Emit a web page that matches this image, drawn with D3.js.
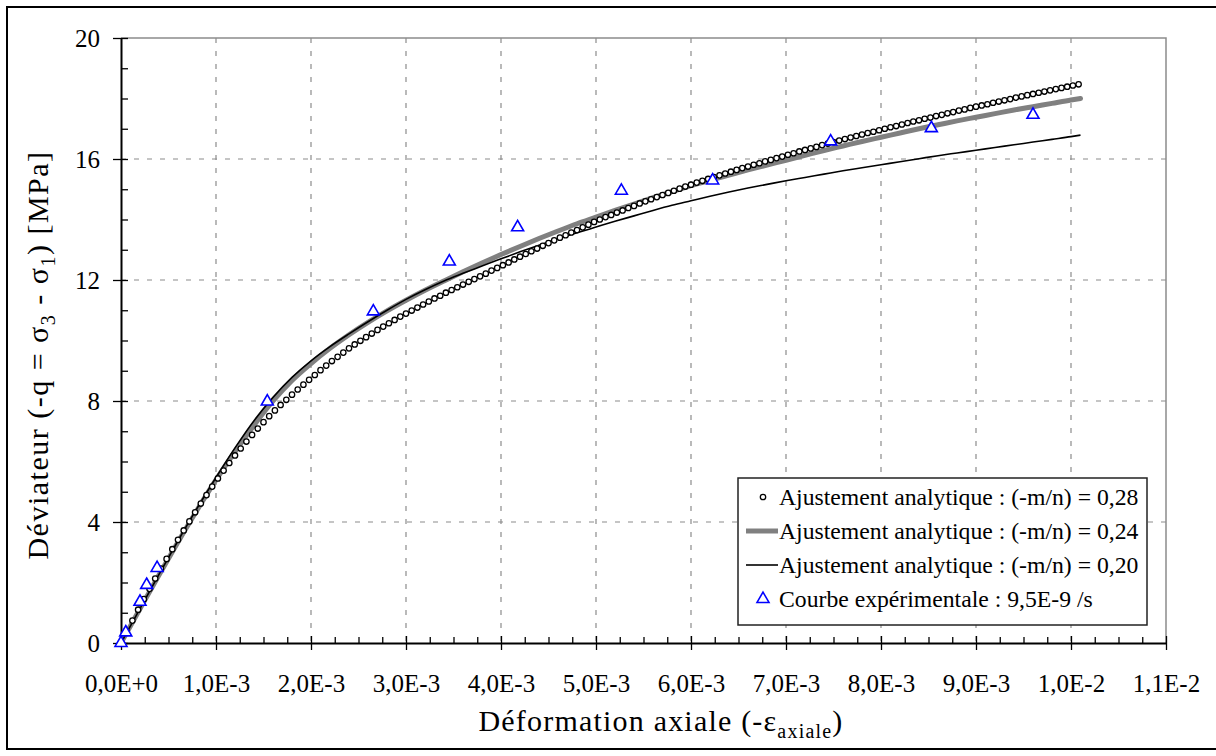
<!DOCTYPE html>
<html><head><meta charset="utf-8">
<script src="https://cdn.jsdelivr.net/npm/d3@7"></script>
<style>body{margin:0;background:#fff}svg{display:block;font-family:"Liberation Serif","Times New Roman",serif}</style>
</head><body><svg id="c" width="1216" height="756"></svg>
<script>
// ---- data (strain in units of 1E-3, deviator in MPa) ----
const xTickValues = [0,1,2,3,4,5,6,7,8,9,10,11];
const xTickLabels = ["0,0E+0","1,0E-3","2,0E-3","3,0E-3","4,0E-3","5,0E-3","6,0E-3","7,0E-3","8,0E-3","9,0E-3","1,0E-2","1,1E-2"];
const yTickValues = [0,4,8,12,16,20];
const yTickLabels = ["0","4","8","12","16","20"];

// Ajustement analytique (-m/n) = 0,28 (markers)
const fit28X = [0,0.06,0.12,0.18,0.24,0.30,0.36,0.42,0.48,0.54,
0.60,0.66,0.72,0.78,0.84,0.90,0.96,1.02,1.08,1.14,
1.20,1.26,1.32,1.38,1.44,1.50,1.56,1.62,1.68,1.74,
1.80,1.86,1.92,1.98,2.04,2.10,2.16,2.22,2.28,2.34,
2.40,2.46,2.52,2.58,2.64,2.70,2.76,2.82,2.88,2.94,
3.00,3.06,3.12,3.18,3.24,3.30,3.36,3.42,3.48,3.54,
3.60,3.66,3.72,3.78,3.84,3.90,3.96,4.02,4.08,4.14,
4.20,4.26,4.32,4.38,4.44,4.50,4.56,4.62,4.68,4.74,
4.80,4.86,4.92,4.98,5.04,5.10,5.16,5.22,5.28,5.34,
5.40,5.46,5.52,5.58,5.64,5.70,5.76,5.82,5.88,5.94,
6.00,6.06,6.12,6.18,6.24,6.30,6.36,6.42,6.48,6.54,
6.60,6.66,6.72,6.78,6.84,6.90,6.96,7.02,7.08,7.14,
7.20,7.26,7.32,7.38,7.44,7.50,7.56,7.62,7.68,7.74,
7.80,7.86,7.92,7.98,8.04,8.10,8.16,8.22,8.28,8.34,
8.40,8.46,8.52,8.58,8.64,8.70,8.76,8.82,8.88,8.94,
9.00,9.06,9.12,9.18,9.24,9.30,9.36,9.42,9.48,9.54,
9.60,9.66,9.72,9.78,9.84,9.90,9.96,10.02,10.08];
const fit28Q = [0,0.37,0.74,1.10,1.45,1.79,2.13,2.46,2.78,3.10,
3.41,3.72,4.02,4.32,4.61,4.89,5.17,5.44,5.70,5.95,
6.20,6.43,6.66,6.88,7.09,7.30,7.50,7.69,7.87,8.04,
8.21,8.38,8.54,8.70,8.86,9.02,9.17,9.32,9.46,9.60,
9.74,9.87,9.99,10.11,10.23,10.35,10.46,10.57,10.68,10.79,
10.89,10.99,11.09,11.19,11.29,11.39,11.48,11.58,11.67,11.76,
11.85,11.94,12.03,12.12,12.21,12.31,12.40,12.49,12.58,12.68,
12.77,12.86,12.95,13.04,13.13,13.22,13.31,13.40,13.48,13.57,
13.65,13.74,13.83,13.92,14.00,14.08,14.15,14.23,14.30,14.38,
14.45,14.53,14.60,14.67,14.74,14.81,14.88,14.95,15.02,15.09,
15.15,15.22,15.28,15.34,15.40,15.46,15.52,15.58,15.64,15.70,
15.75,15.81,15.86,15.92,15.97,16.03,16.08,16.14,16.19,16.25,
16.30,16.35,16.40,16.46,16.51,16.56,16.61,16.66,16.71,16.76,
16.81,16.86,16.90,16.95,17.00,17.05,17.09,17.14,17.19,17.24,
17.28,17.33,17.37,17.42,17.46,17.51,17.55,17.60,17.64,17.69,
17.73,17.77,17.81,17.86,17.90,17.94,17.98,18.03,18.07,18.11,
18.15,18.19,18.23,18.27,18.31,18.35,18.39,18.43,18.47];

// Ajustement analytique (-m/n) = 0,24 (thick grey line) and 0,20 (thin black line)
const fitLineX = [0,0.2,0.4,0.6,0.8,1.0,1.2,1.4,1.6,1.8,
2.0,2.2,2.4,2.6,2.8,3.0,3.2,3.4,3.6,3.8,
4.0,4.2,4.4,4.6,4.8,5.0,5.2,5.4,5.6,5.8,
6.0,6.2,6.4,6.6,6.8,7.0,7.2,7.4,7.6,7.8,
8.0,8.2,8.4,8.6,8.8,9.0,9.2,9.4,9.6,9.8,10.0,10.1];
const fit24Q = [0,1.13,2.25,3.34,4.39,5.39,6.33,7.20,8.00,8.68,
9.24,9.74,10.19,10.60,10.98,11.33,11.66,11.97,12.27,12.56,
12.84,13.11,13.37,13.62,13.86,14.08,14.30,14.51,14.72,14.92,
15.12,15.30,15.47,15.64,15.80,15.96,16.12,16.28,16.43,16.58,
16.72,16.86,17.00,17.13,17.26,17.38,17.50,17.62,17.73,17.84,17.95,18.00];
const fit20Q = [0,1.14,2.27,3.38,4.45,5.47,6.45,7.35,8.12,8.78,
9.33,9.80,10.22,10.62,11.00,11.36,11.68,11.97,12.22,12.46,
12.70,12.93,13.15,13.36,13.56,13.75,13.94,14.12,14.30,14.47,
14.62,14.77,14.91,15.04,15.16,15.28,15.39,15.50,15.61,15.71,
15.81,15.91,16.01,16.11,16.20,16.29,16.38,16.47,16.56,16.65,16.74,16.79];

// Courbe expérimentale : 9,5E-9 /s
const expX = [0,0.05,0.20,0.27,0.38,1.54,2.656,3.456,4.175,5.267,6.228,7.47,8.53,9.60];
const expQ = [0,0.35,1.36,1.92,2.48,7.98,10.96,12.61,13.74,14.95,15.29,16.58,17.02,17.46];

const legendLabels = [
  "Ajustement analytique : (-m/n) = 0,28",
  "Ajustement analytique : (-m/n) = 0,24",
  "Ajustement analytique : (-m/n) = 0,20",
  "Courbe expérimentale : 9,5E-9 /s"
];

// ---- drawing ----
const svg = d3.select("#c");
const L = 121, R = 1166, T = 38, B = 643;
const x = d3.scaleLinear().domain([0, 11]).range([L, R]);
const y = d3.scaleLinear().domain([0, 20]).range([B, T]);
const FONT = "'Liberation Serif', 'Times New Roman', serif";

// outer frame
svg.append("rect").attr("x", 7).attr("y", 7).attr("width", 1215).attr("height", 742)
  .attr("fill", "none").attr("stroke", "#000").attr("stroke-width", 2);

// grid
const grid = svg.append("g").attr("stroke", "#8c8c8c").attr("stroke-width", 1.2).attr("stroke-dasharray", "5,8");
grid.selectAll("line.v").data(xTickValues.slice(1, -1)).join("line")
  .attr("x1", d => x(d)).attr("x2", d => x(d)).attr("y1", T).attr("y2", B);
grid.selectAll("line.h").data(yTickValues.slice(1, -1)).join("line")
  .attr("y1", d => y(d)).attr("y2", d => y(d)).attr("x1", L).attr("x2", R);

// plot area top/right border
svg.append("path").attr("d", `M${L},${T}H${R}V${B}`).attr("fill", "none")
  .attr("stroke", "#8c8c8c").attr("stroke-width", 1.5);

// minor ticks
const xMinor = d3.range(0, 11.001, 0.25).filter(v => Math.abs(v - Math.round(v)) > 1e-6);
const yMinor = d3.range(0, 20.001, 1).filter(v => v % 4 !== 0);
svg.append("g").attr("transform", `translate(0,${B})`)
  .call(d3.axisTop(x).tickValues(xMinor).tickSize(6).tickFormat(""))
  .call(g => g.select(".domain").remove())
  .selectAll("line").attr("stroke", "#000").attr("stroke-width", 1.3);
svg.append("g").attr("transform", `translate(${L},0)`)
  .call(d3.axisRight(y).tickValues(yMinor).tickSize(7).tickFormat(""))
  .call(g => g.select(".domain").remove())
  .selectAll("line").attr("stroke", "#000").attr("stroke-width", 1.3);

// major axes
const xAxis = svg.append("g").attr("transform", `translate(0,${B})`)
  .call(d3.axisBottom(x).tickValues(xTickValues).tickFormat((d, i) => xTickLabels[i]).tickSizeOuter(0));
xAxis.select(".domain").attr("stroke", "#000").attr("stroke-width", 2);
xAxis.selectAll(".tick line").attr("y1", -7).attr("y2", 7).attr("stroke", "#000").attr("stroke-width", 1.3);
xAxis.selectAll(".tick text").attr("y", 49).attr("dy", 0)
  .attr("font-size", 25).attr("font-family", FONT).attr("fill", "#000");

const yAxis = svg.append("g").attr("transform", `translate(${L},0)`)
  .call(d3.axisLeft(y).tickValues(yTickValues).tickFormat((d, i) => yTickLabels[i]).tickSizeOuter(0));
yAxis.select(".domain").attr("stroke", "#000").attr("stroke-width", 2);
yAxis.selectAll(".tick line").attr("x1", -8).attr("x2", 7).attr("stroke", "#000").attr("stroke-width", 1.3);
yAxis.selectAll(".tick text").attr("x", -21).attr("dy", "0.33em")
  .attr("font-size", 25).attr("font-family", FONT).attr("fill", "#000");

// series
const line = d3.line().x(d => x(d[0])).y(d => y(d[1])).curve(d3.curveMonotoneX);
svg.append("path").datum(d3.zip(fitLineX, fit24Q)).attr("d", line)
  .attr("fill", "none").attr("stroke", "#808080").attr("stroke-width", 5).attr("stroke-linecap", "round");
svg.append("path").datum(d3.zip(fitLineX, fit20Q)).attr("d", line)
  .attr("fill", "none").attr("stroke", "#000").attr("stroke-width", 1.6);
svg.append("g").selectAll("circle").data(d3.zip(fit28X, fit28Q)).join("circle")
  .attr("cx", d => x(d[0])).attr("cy", d => y(d[1])).attr("r", 2.7)
  .attr("fill", "#fff").attr("stroke", "#000").attr("stroke-width", 1.3);
const tri = d3.symbol(d3.symbolTriangle, 62);
svg.append("g").selectAll("path").data(d3.zip(expX, expQ)).join("path")
  .attr("d", tri).attr("transform", d => `translate(${x(d[0])},${y(d[1])})`)
  .attr("fill", "#fff").attr("stroke", "#0000ff").attr("stroke-width", 1.6);

// legend
const lg = svg.append("g");
lg.append("rect").attr("x", 738).attr("y", 478).attr("width", 409).attr("height", 147)
  .attr("fill", "#fff").attr("stroke", "#222").attr("stroke-width", 1.5);
const rowY = [497, 531, 565, 599];
lg.append("circle").attr("cx", 763).attr("cy", rowY[0]).attr("r", 2.7)
  .attr("fill", "#fff").attr("stroke", "#000").attr("stroke-width", 1.3);
lg.append("line").attr("x1", 746).attr("x2", 778).attr("y1", rowY[1]).attr("y2", rowY[1])
  .attr("stroke", "#808080").attr("stroke-width", 5);
lg.append("line").attr("x1", 746).attr("x2", 778).attr("y1", rowY[2]).attr("y2", rowY[2])
  .attr("stroke", "#000").attr("stroke-width", 1.6);
lg.append("path").attr("d", tri).attr("transform", `translate(763,${rowY[3]})`)
  .attr("fill", "#fff").attr("stroke", "#0000ff").attr("stroke-width", 1.6);
lg.selectAll("text").data(legendLabels).join("text")
  .attr("x", 779).attr("y", (d, i) => rowY[i]).attr("dy", "0.33em")
  .attr("font-size", 23.7).attr("font-family", FONT).attr("fill", "#000").text(d => d);

// axis titles
const xt = svg.append("text").attr("x", 661).attr("y", 731)
  .attr("text-anchor", "middle").attr("font-size", 30).attr("letter-spacing", 1.2)
  .attr("font-family", FONT).attr("fill", "#000");
xt.append("tspan").text("Déformation axiale (-ε");
xt.append("tspan").attr("font-size", 20).attr("dy", 7).text("axiale");
xt.append("tspan").attr("dy", -7).text(")");

const yt = svg.append("text").attr("transform", "translate(48,355) rotate(-90)")
  .attr("text-anchor", "middle").attr("font-size", 30).attr("letter-spacing", 1.5)
  .attr("font-family", FONT).attr("fill", "#000");
yt.append("tspan").text("Déviateur (-q = σ");
yt.append("tspan").attr("font-size", 20).attr("dy", 7).text("3");
yt.append("tspan").attr("dy", -7).text(" - σ");
yt.append("tspan").attr("font-size", 20).attr("dy", 7).text("1");
yt.append("tspan").attr("dy", -7).text(")  [MPa]");
</script></body></html>
